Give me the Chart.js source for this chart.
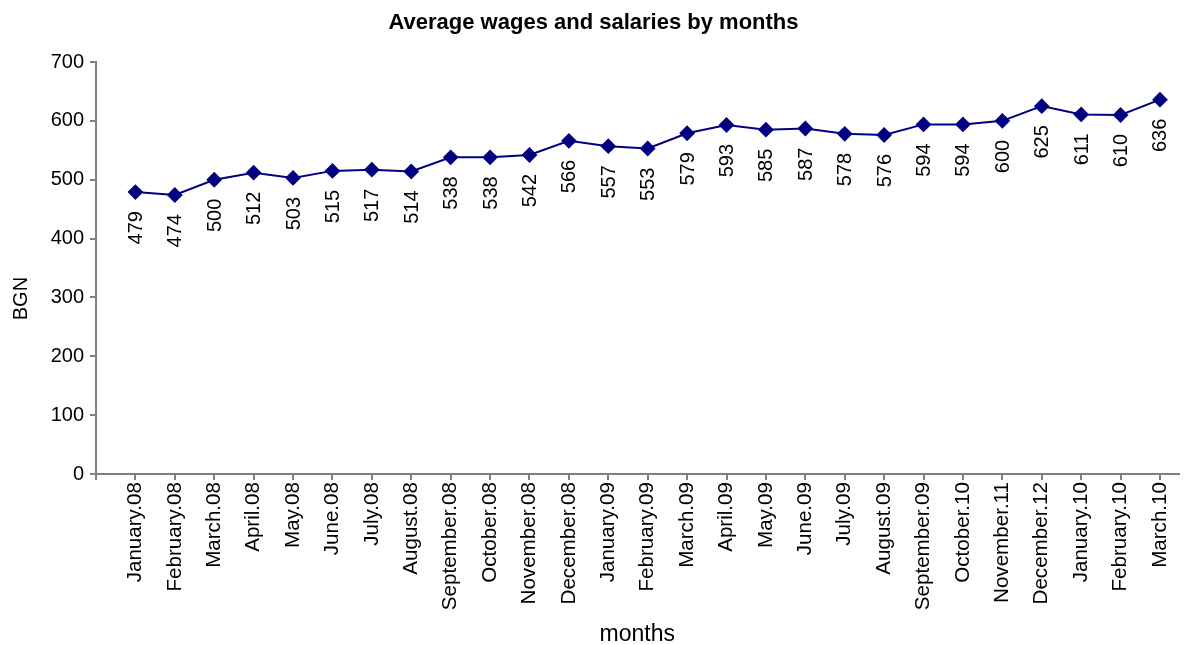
<!DOCTYPE html>
<html>
<head>
<meta charset="utf-8">
<script src="https://cdn.jsdelivr.net/npm/chart.js@4/dist/chart.umd.min.js"></script>
<style>
html,body{margin:0;padding:0;background:#fff;}
#wrap{width:1187px;height:645px;}
</style>
</head>
<body>
<div id="wrap"><canvas id="c" width="1187" height="645"></canvas></div>
<script>
const months = ["January.08","February.08","March.08","April.08","May.08","June.08","July.08","August.08","September.08","October.08","November.08","December.08","January.09","February.09","March.09","April.09","May.09","June.09","July.09","August.09","September.09","October.10","November.11","December.12","January.10","February.10","March.10"];
const wages = [479,474,500,512,503,515,517,514,538,538,542,566,557,553,579,593,585,587,578,576,594,594,600,625,611,610,636];
const yTicks = [0,100,200,300,400,500,600,700];

const FONT = "'Liberation Sans', Arial, sans-serif";
const NAVY = "#000080";
const AXIS = "#808080";

const labelPlugin = {
  id: 'valueLabels',
  afterDatasetsDraw(chart) {
    const ctx = chart.ctx;
    const meta = chart.getDatasetMeta(0);
    ctx.save();
    ctx.font = "20px " + FONT;
    ctx.fillStyle = "#000";
    ctx.textAlign = "right";
    ctx.textBaseline = "middle";
    meta.data.forEach((pt, i) => {
      ctx.save();
      ctx.translate(pt.x, pt.y + 19);
      ctx.rotate(-Math.PI / 2);
      ctx.fillText(String(wages[i]), 0, 1);
      ctx.restore();
    });
    ctx.restore();
  }
};

new Chart(document.getElementById('c'), {
  type: 'line',
  data: {
    datasets: [{
      data: wages.map((v, i) => ({x: i, y: v})),
      borderColor: NAVY,
      backgroundColor: NAVY,
      borderWidth: 2,
      pointStyle: 'rectRot',
      pointRadius: 6.5,
      pointBackgroundColor: NAVY,
      pointBorderColor: NAVY,
      tension: 0,
      fill: false
    }]
  },
  options: {
    responsive: false,
    animation: false,
    events: [],
    layout: {padding: {left: 0, right: 0, top: 0, bottom: 0}},
    plugins: {
      legend: {display: false},
      tooltip: {enabled: false},
      title: {
        display: true,
        text: 'Average wages and salaries by months',
        color: '#000',
        font: {family: FONT, size: 22, weight: 'bold', lineHeight: 1.2},
        padding: {top: 10, bottom: 25.6}
      }
    },
    scales: {
      x: {
        type: 'linear',
        min: -1,
        max: 26.47,
        afterBuildTicks(axis) {
          axis.ticks = [-1].concat(months.map((_, i) => i)).map(v => ({value: v}));
        },
        afterFit(scale) { scale.height = 171; },
        ticks: {
          autoSkip: false,
          maxRotation: 90,
          minRotation: 90,
          padding: 2,
          color: '#000',
          font: {family: FONT, size: 20.6},
          callback: (v) => (v >= 0 && v < months.length) ? months[v] : ''
        },
        grid: {display: true, drawOnChartArea: false, drawTicks: true, tickLength: 6, color: AXIS, lineWidth: 2},
        border: {display: true, color: AXIS, width: 2},
        title: {display: true, text: 'months', color: '#000', font: {family: FONT, size: 23, lineHeight: 0.9}, padding: {top: 0, bottom: 0}}
      },
      y: {
        min: 0,
        max: 700,
        afterBuildTicks(axis) { axis.ticks = yTicks.map(v => ({value: v})); },
        afterFit(scale) { scale.width = 96; },
        ticks: {color: '#000', font: {family: FONT, size: 20}, padding: 6},
        grid: {display: true, drawOnChartArea: false, drawTicks: true, tickLength: 6, color: AXIS, lineWidth: 2},
        border: {display: true, color: AXIS, width: 2},
        title: {display: true, text: 'BGN           ', color: '#000', font: {family: FONT, size: 20}, padding: {top: 9, bottom: 0}}
      }
    }
  },
  plugins: [labelPlugin]
});
</script>
</body>
</html>
